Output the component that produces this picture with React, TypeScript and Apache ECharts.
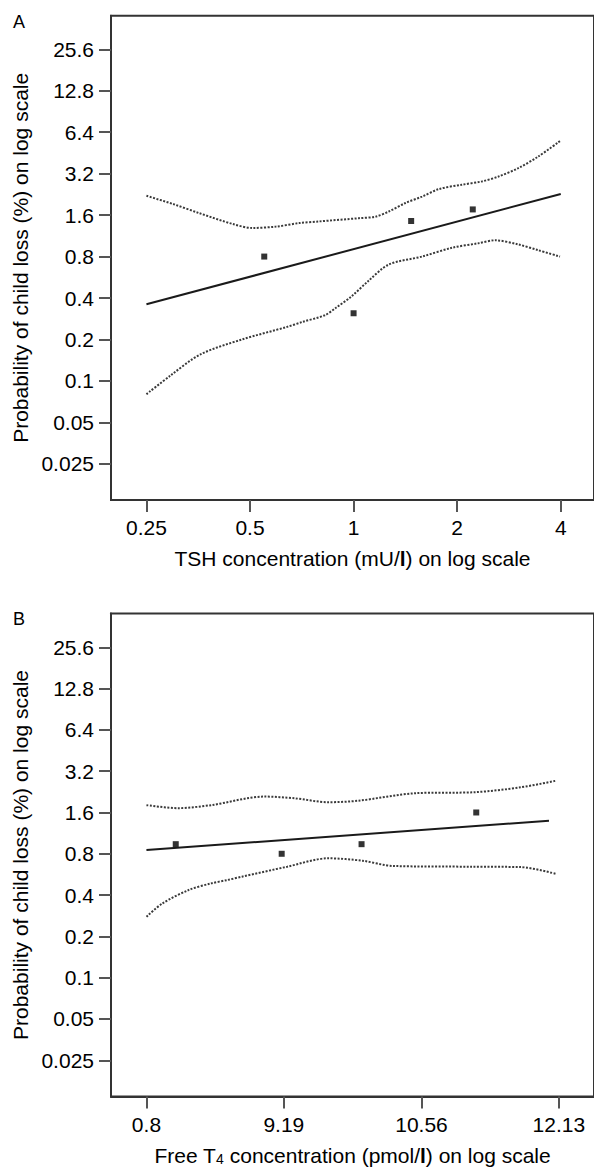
import React, { useEffect, useRef } from 'react';
import * as echarts from 'echarts';

// ---- tick labels ----
const probTicks = [0.025, 0.05, 0.1, 0.2, 0.4, 0.8, 1.6, 3.2, 6.4, 12.8, 25.6];
const probTickLabels = ['0.025', '0.05', '0.1', '0.2', '0.4', '0.8', '1.6', '3.2', '6.4', '12.8', '25.6'];
const tshTicks = [0.25, 0.5, 1, 2, 4];
const tshTickLabels = ['0.25', '0.5', '1', '2', '4'];
const ft4Ticks = [8, 9.19, 10.56, 12.13];
const ft4TickLabels = ['0.8', '9.19', '10.56', '12.13'];
const panelLetters = ['A', 'B'];

// ---- panel A: TSH ----
const tshObsX = [0.55, 1.0, 1.47, 2.22];
const tshObsY = [0.8, 0.31, 1.45, 1.76];
const tshFitX = [0.25, 4];
const tshFitY = [0.36, 2.28];
const tshUpperX = [0.25, 0.298, 0.357, 0.445, 0.509, 0.595, 0.695, 0.794, 1.037, 1.159, 1.266, 1.415, 1.581, 1.767, 2.063, 2.358, 2.636, 3.01, 3.44, 4.0];
const tshUpperY = [2.21, 1.93, 1.65, 1.38, 1.29, 1.32, 1.4, 1.44, 1.52, 1.56, 1.7, 1.96, 2.18, 2.47, 2.66, 2.81, 3.05, 3.51, 4.26, 5.57];
const tshLowerX = [0.25, 0.293, 0.359, 0.474, 0.641, 0.709, 0.825, 0.889, 0.985, 1.1, 1.266, 1.581, 1.93, 2.307, 2.58, 3.01, 3.44, 3.98];
const tshLowerY = [0.08, 0.109, 0.156, 0.2, 0.247, 0.268, 0.3, 0.34, 0.41, 0.528, 0.7, 0.8, 0.926, 1.0, 1.05, 0.98, 0.89, 0.8];

// ---- panel B: free T4 ----
const ft4ObsX = [8.24, 9.17, 9.94, 11.16];
const ft4ObsY = [0.94, 0.8, 0.94, 1.6];
const ft4FitX = [8.0, 12.01];
const ft4FitY = [0.852, 1.394];
const ft4UpperX = [8.0, 8.26, 8.54, 9.01, 9.29, 9.61, 9.91, 10.49, 11.15, 11.67, 12.1];
const ft4UpperY = [1.81, 1.72, 1.81, 2.09, 2.03, 1.9, 1.95, 2.21, 2.25, 2.44, 2.73];
const ft4LowerX = [8.0, 8.13, 8.35, 8.54, 8.68, 8.81, 9.22, 9.61, 9.95, 10.26, 11.11, 11.67, 12.1];
const ft4LowerY = [0.278, 0.348, 0.436, 0.487, 0.515, 0.545, 0.644, 0.742, 0.712, 0.652, 0.644, 0.64, 0.57];

// ---- log transforms ----
const ty = (v: number) => Math.log2(v / 0.1);
const txA = (v: number) => Math.log2(v);
const ft4Ratio = Math.pow(12.13 / 8, 1 / 3);
const txB = (v: number) => Math.log(v / 8) / Math.log(ft4Ratio);

const FONT = '"Liberation Sans", Arial, Helvetica, sans-serif';
const TXT = '#000';

const pairs = (xs: number[], ys: number[], fx: (v: number) => number) =>
  xs.map((x, i) => [fx(x), ty(ys[i])]);

const labeler = (ticksT: number[], labels: string[]) => (val: number) => {
  const i = ticksT.findIndex((t) => Math.abs(t - val) < 1e-6);
  return i >= 0 ? labels[i] : '';
};

const richName = {
  b: { fontFamily: FONT, fontSize: 21, fontWeight: 'bold', color: TXT },
  sub: { fontFamily: FONT, fontSize: 14, color: TXT, verticalAlign: 'bottom', lineHeight: 10 },
};

function xAxis(gridIndex: number, min: number, max: number, ticks: number[], labels: string[], fx: (v: number) => number, name: string) {
  const t = ticks.map(fx);
  return {
    type: 'value',
    gridIndex,
    min,
    max,
    name,
    nameLocation: 'middle',
    nameGap: 48,
    nameTextStyle: { fontFamily: FONT, fontSize: 21, color: TXT, rich: richName },
    axisLine: { show: true, onZero: false, lineStyle: { color: '#333', width: 2 } },
    axisTick: { show: true, inside: false, length: 12, customValues: t, lineStyle: { color: '#555', width: 2 } },
    axisLabel: { show: true, margin: 17, customValues: t, formatter: labeler(t, labels), fontFamily: FONT, fontSize: 21, color: TXT },
    splitLine: { show: false },
  };
}

function yAxis(gridIndex: number, min: number, max: number) {
  const t = probTicks.map(ty);
  return {
    type: 'value',
    gridIndex,
    min,
    max,
    name: 'Probability of child loss (%) on log scale',
    nameLocation: 'middle',
    nameGap: 80,
    nameTextStyle: { fontFamily: FONT, fontSize: 21, color: TXT },
    axisLine: { show: true, onZero: false, lineStyle: { color: '#333', width: 2 } },
    axisTick: { show: true, inside: false, length: 12, customValues: t, lineStyle: { color: '#555', width: 2 } },
    axisLabel: { show: true, margin: 17, customValues: t, formatter: labeler(t, probTickLabels), fontFamily: FONT, fontSize: 21, color: TXT },
    splitLine: { show: false },
  };
}

const dotted = { color: '#3a3a3a', width: 2, type: [2, 1.5] };

function panelSeries(idx: number, fx: (v: number) => number, ux: number[], uy: number[], lx: number[], ly: number[], fxs: number[], fys: number[], ox: number[], oy: number[]) {
  return [
    { type: 'line', xAxisIndex: idx, yAxisIndex: idx, data: pairs(ux, uy, fx), smooth: 0.3, symbol: 'none', lineStyle: dotted },
    { type: 'line', xAxisIndex: idx, yAxisIndex: idx, data: pairs(lx, ly, fx), smooth: 0.3, symbol: 'none', lineStyle: dotted },
    { type: 'line', xAxisIndex: idx, yAxisIndex: idx, data: pairs(fxs, fys, fx), symbol: 'none', lineStyle: { color: '#1a1a1a', width: 2 } },
    { type: 'scatter', xAxisIndex: idx, yAxisIndex: idx, data: pairs(ox, oy, fx), symbol: 'rect', symbolSize: 6, itemStyle: { color: '#000' } },
  ];
}

const letterTitle = (text: string, top: number) => ({
  text,
  left: 13,
  top,
  padding: 0,
  textStyle: { fontFamily: FONT, fontSize: 18, fontWeight: 'normal', color: TXT },
});

const option = {
  animation: false,
  backgroundColor: '#fff',
  title: [letterTitle(panelLetters[0], 13), letterTitle(panelLetters[1], 610)],
  grid: [
    { left: 111, top: 15.7, width: 485, height: 484.3, show: true, borderColor: '#333', borderWidth: 2, containLabel: false },
    { left: 111, top: 613.5, width: 485, height: 483, show: true, borderColor: '#333', borderWidth: 2, containLabel: false },
  ],
  xAxis: [
    xAxis(0, -2.342, 2.321, tshTicks, tshTickLabels, txA, 'TSH concentration (mU/{b|l}) on log scale'),
    xAxis(1, -0.258, 3.256, ft4Ticks, ft4TickLabels, txB, 'Free T{sub|4} concentration (pmol/{b|l}) on log scale'),
  ],
  yAxis: [yAxis(0, -2.873, 8.811), yAxis(1, -2.877, 8.818)],
  series: [
    ...panelSeries(0, txA, tshUpperX, tshUpperY, tshLowerX, tshLowerY, tshFitX, tshFitY, tshObsX, tshObsY),
    ...panelSeries(1, txB, ft4UpperX, ft4UpperY, ft4LowerX, ft4LowerY, ft4FitX, ft4FitY, ft4ObsX, ft4ObsY),
  ],
};

export default function App() {
  const ref = useRef<HTMLDivElement>(null);
  useEffect(() => {
    document.body.style.margin = '0';
    const chart = echarts.init(ref.current!, null, { renderer: 'svg' });
    chart.setOption(option as any);
    return () => chart.dispose();
  }, []);
  return <div ref={ref} style={{ width: 594, height: 1168 }} />;
}
